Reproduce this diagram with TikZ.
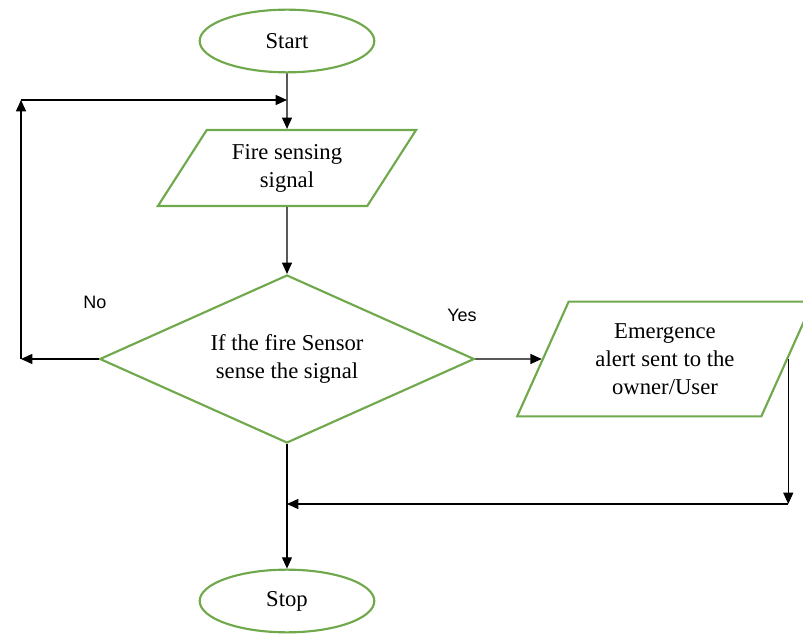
\documentclass[tikz,border=0pt]{standalone}
\usepackage{fontspec}
\setmainfont{Liberation Serif}
\newfontfamily\labelfont{Liberation Sans}
\usetikzlibrary{arrows.meta,shapes.geometric}
\definecolor{boxgreen}{RGB}{112,168,76}
\tikzset{
  box/.style={draw=boxgreen, line width=1.6pt, fill=white, inner sep=0pt, align=center,
    font=\fontsize{17}{21}\selectfont},
  terminal/.style={box, ellipse, minimum width=131pt, minimum height=47pt},
  iobox/.style={box, trapezium, trapezium stretches=true},
  decision/.style={box, diamond, shape aspect=2.2},
  arr/.style={-{Triangle[length=8.5pt,width=7.5pt]}, line width=0.9pt},
  branch/.style={font=\labelfont\fontsize{13.5}{16}\selectfont}
}
\begin{document}
\begin{tikzpicture}[x=0.75pt, y=-0.75pt]
			%%%%% START %%%%%
			\useasboundingbox (0, 0) rectangle (803, 634);
			
			\node[terminal] (start) at (287, 41) {Start};
			\node[iobox, trapezium left angle=55, trapezium right angle=125,
			  minimum width=194pt, minimum height=57pt] (sense) at (287, 168) {Fire sensing\\signal};
			\node[decision, minimum width=281pt, minimum height=126pt] (check) at (287, 359)
			  {If the fire Sensor\\sense the signal};
			\node[iobox, trapezium left angle=62.4, trapezium right angle=117.6,
			  minimum width=222pt, minimum height=86pt] (alert) at (665, 359)
			  {Emergence\\alert sent to the\\owner/User};
			\node[terminal] (stop) at (287, 601) {Stop};
			
			\node[branch] (no) at (95, 302) {No};
			\node[branch] (yes) at (462, 315) {Yes};
			
			\coordinate (loopb) at (21, 359);
			\coordinate (loopt) at (21, 100);
			\coordinate (joinr) at (alert.east |- 0, 504);
			
			\draw[arr] (start.south) -- (sense.north);
			\draw[arr] (sense.south) -- (check.north);
			\draw[arr] (check.east) -- (alert.west);
			\draw[arr] (check.west) -- (loopb);
			\draw[arr] (loopb) -- (loopt);
			\draw[arr] (loopt) -- (start.south |- loopt);
			\draw[arr] (alert.east) -- (joinr);
			\draw[arr] (joinr) -- (check.south |- joinr);
			\draw[arr] (check.south) -- (stop.north);
			
			%%%%% END %%%%%
\end{tikzpicture}
\end{document}
